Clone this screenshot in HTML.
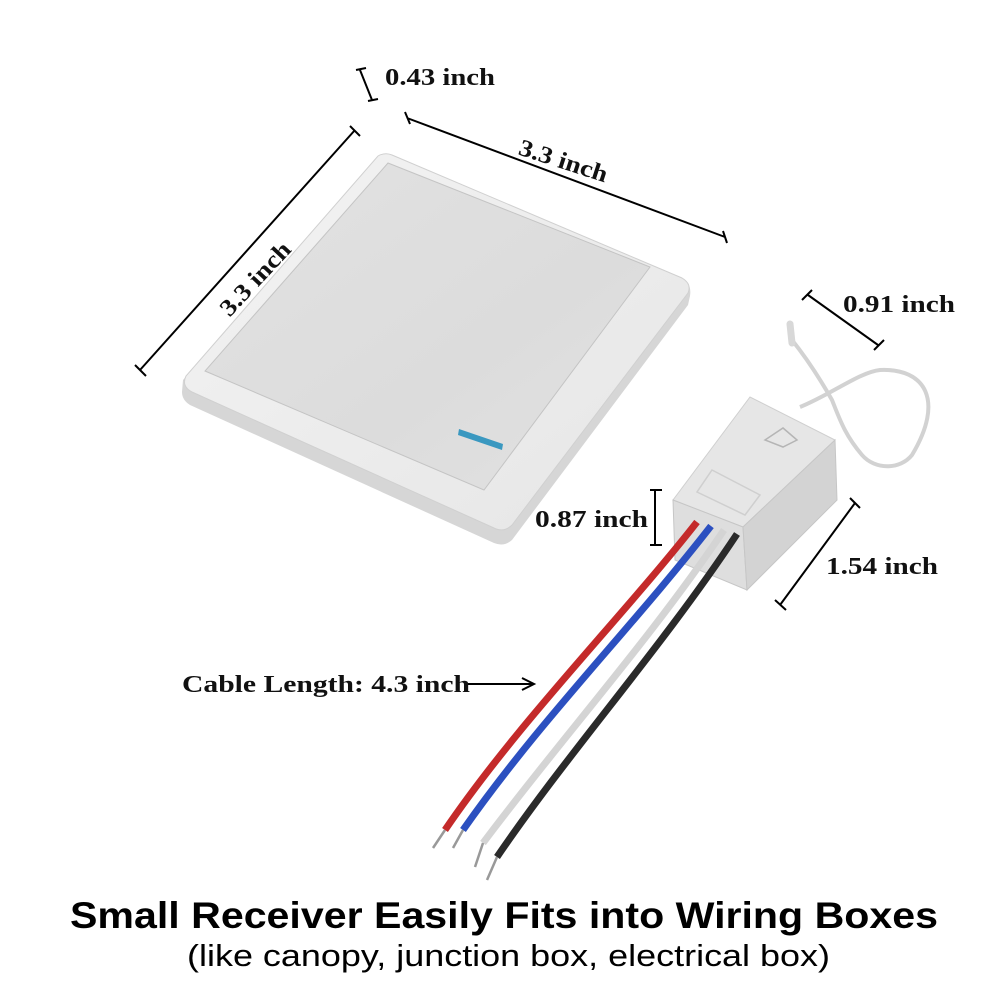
<!DOCTYPE html>
<html><head><meta charset="utf-8"><style>
body{margin:0;background:#fff;width:1000px;height:1000px;overflow:hidden}
</style></head><body>
<svg width="1000" height="1000" viewBox="0 0 1000 1000" xmlns="http://www.w3.org/2000/svg">
<defs>
<linearGradient id="pl" x1="0" y1="0" x2="1" y2="1"><stop offset="0" stop-color="#f3f3f3"/><stop offset="1" stop-color="#e6e6e6"/></linearGradient>
<linearGradient id="face" x1="0" y1="0" x2="1" y2="1"><stop offset="0" stop-color="#e2e2e2"/><stop offset="0.6" stop-color="#dcdcdc"/><stop offset="1" stop-color="#e2e2e2"/></linearGradient>
</defs>
<!-- switch plate -->
<path d="M378,156 Q385,152 392,155 L682,278 Q692,284 690,296 L688,305 L512,540 Q504,547 494,543 L190,405 Q182,400 182,392 L183,380 Z" fill="#d6d6d6"/>
<path d="M378,156 Q385,152 392,155 L682,278 Q692,284 688,293 L512,525 Q504,533 494,528 L192,392 Q181,386 186,376 Z" fill="url(#pl)" stroke="#d0d0d0"/>
<polygon points="388,163 650,267 484,490 205,371" fill="url(#face)" stroke="#c4c4c4"/>
<polygon points="459,429 503,444 502,450 458,435" fill="#3a98c0"/>
<!-- receiver -->
<polygon points="673,500 750,397 835,440 743,527" fill="#e6e6e6" stroke="#cfcfcf"/>
<polygon points="673,500 743,527 747,590 675,560" fill="#dedede" stroke="#c6c6c6"/>
<polygon points="743,527 835,440 837,500 747,590" fill="#d3d3d3" stroke="#c6c6c6"/>
<polygon points="765,440 783,428 797,440 783,447" fill="none" stroke="#b5b5b5" stroke-width="1.5"/>
<polygon points="712,470 760,495 745,515 697,492" fill="none" stroke="#cfcfcf" stroke-width="1.5"/>
<!-- antenna -->
<path d="M800,407 C830,395 860,372 880,370 C925,368 945,400 912,455 C900,470 875,470 862,455 C845,435 840,420 832,400 C815,370 800,350 792,340" fill="none" stroke="#d2d2d2" stroke-width="4"/>
<path d="M792,343 L790,324" stroke="#d8d8d8" stroke-width="7" stroke-linecap="round"/>
<!-- wires -->
<g stroke-linecap="butt" fill="none">
<path d="M697,522 C620,620 520,720 445,830" stroke="#c42a2a" stroke-width="7"/>
<path d="M711,526 C630,630 540,720 463,830" stroke="#2c50c0" stroke-width="7"/>
<path d="M724,530 C650,640 560,740 483,843" stroke="#d4d4d4" stroke-width="7"/>
<path d="M737,534 C660,650 570,750 497,857" stroke="#2a2a2a" stroke-width="7"/>
<g stroke="#999" stroke-width="2.5">
<path d="M445,830 L433,848 M463,830 L453,848 M483,843 L475,867 M497,857 L487,880"/>
</g>
</g>
<!-- dimension lines -->
<g stroke="#000" stroke-width="2" fill="none">
<path d="M140,370 L355,130 M135,365 L146,376 M350,126 L360,136"/>
<path d="M407,118 L725,237 M405,112 L410,124 M723,231 L727,243"/>
<path d="M360,70 L372,100 M356,70 L366,68 M368,101 L378,99"/>
<path d="M808,295 L878,345 M802,300 L812,290 M874,350 L884,340"/>
<path d="M655,490 L655,545 M650,490 L662,490 M650,545 L662,545"/>
<path d="M780,605 L855,503 M775,600 L786,610 M850,498 L860,508"/>
<path d="M465,684 L533,684 M522,678 L534,684 L522,690"/>
</g>
<g font-family="Liberation Serif,serif" font-weight="bold" font-size="24" fill="#111">
<text x="385" y="85" textLength="110" lengthAdjust="spacingAndGlyphs">0.43 inch</text>
<text x="515" y="168" transform="rotate(18 560 168)" textLength="92" lengthAdjust="spacingAndGlyphs">3.3 inch</text>
<text x="198" y="295" transform="rotate(-47 240 270)" textLength="92" lengthAdjust="spacingAndGlyphs">3.3 inch</text>
<text x="843" y="312" textLength="112" lengthAdjust="spacingAndGlyphs">0.91 inch</text>
<text x="535" y="527" textLength="113" lengthAdjust="spacingAndGlyphs">0.87 inch</text>
<text x="826" y="574" textLength="112" lengthAdjust="spacingAndGlyphs">1.54 inch</text>
<text x="182" y="692" textLength="288" lengthAdjust="spacingAndGlyphs">Cable Length: 4.3 inch</text>
</g>
<text x="70" y="928" textLength="868" lengthAdjust="spacingAndGlyphs" font-family="Liberation Sans,sans-serif" font-weight="bold" font-size="37" fill="#000">Small Receiver Easily Fits into Wiring Boxes</text>
<text x="187" y="966" textLength="643" lengthAdjust="spacingAndGlyphs" font-family="Liberation Sans,sans-serif" font-size="31" fill="#000">(like canopy, junction box, electrical box)</text>
</svg>
</body></html>
